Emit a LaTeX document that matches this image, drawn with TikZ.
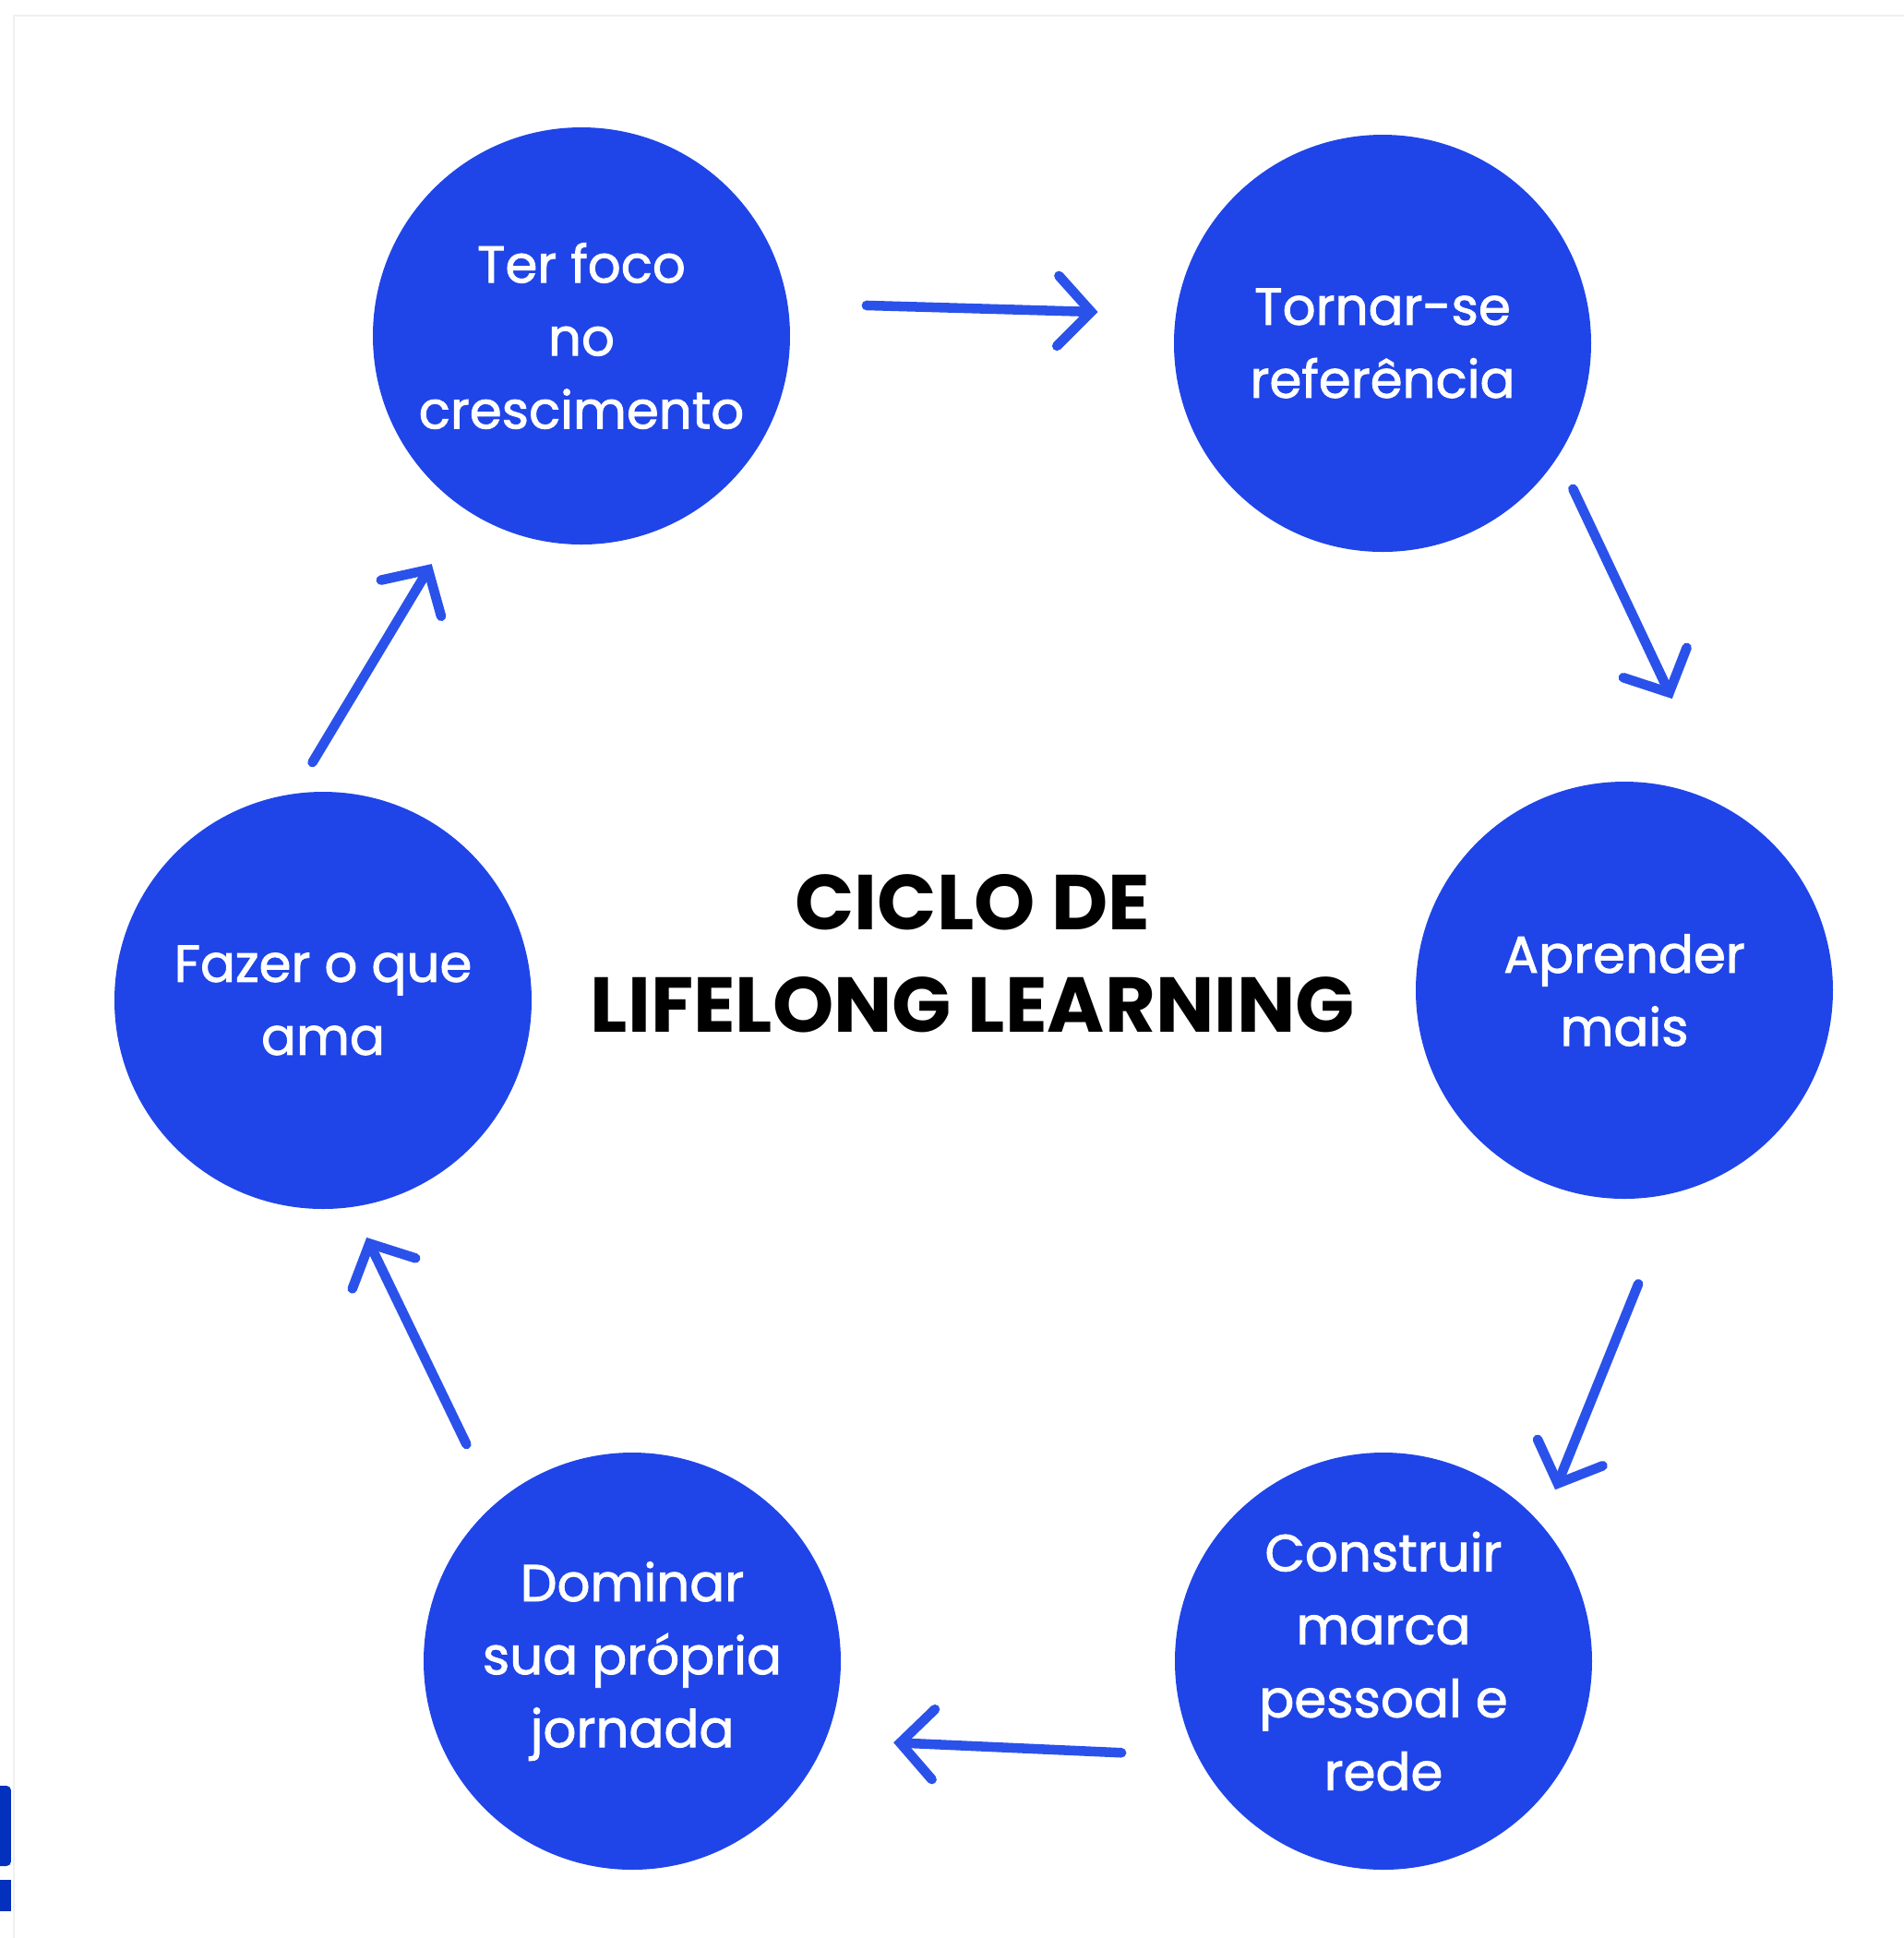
\documentclass[tikz,border=0pt]{standalone}
\usepackage{fontspec}
\setmainfont{Poppins}
\newfontfamily\stagefont[RawFeature={embolden=1.6}]{Poppins}
\usetikzlibrary{arrows.meta}
\definecolor{cycblue}{HTML}{1F45E8}
\definecolor{arrblue}{HTML}{2A52EA}
\definecolor{markblue}{HTML}{0430BE}
\begin{document}
\begin{tikzpicture}[
  stage/.style={circle,fill=cycblue,minimum size=4.52cm,inner sep=0pt,align=center,
    text=white,font=\stagefont\fontsize{16}{22.5}\selectfont},
  cyc/.style={arrblue,line width=3pt,line cap=round,-{Straight Barb[length=3.6mm,width=7.6mm,line cap=round]}}]
  \useasboundingbox (0,0) rectangle (20.63,-21);
  \draw[gray!12,line width=0.6pt] (0.15,-21)--(0.15,-0.17)--(20.63,-0.17);
  \fill[markblue,rounded corners=0.05cm] (-0.1,-19.35) rectangle (0.12,-20.22);
  \fill[markblue] (0,-20.37) rectangle (0.12,-20.71);
  \node[stage] (foco) at (6.30,-3.64) {Ter foco\\no\\crescimento};
  \node[stage] (ref) at (14.98,-3.72) {Tornar-se\\referência};
  \node[stage] (apr) at (17.60,-10.73) {Aprender\\mais};
  \node[stage] (marca) at (14.99,-18.00) {Construir\\marca\\pessoal e\\rede};
  \node[stage] (jorn) at (6.85,-18.00) {Dominar\\sua própria\\jornada};
  \node[stage] (ama) at (3.50,-10.84) {Fazer o que\\ama};
  \node[align=center,font=\bfseries\fontsize{24}{31.5}\selectfont] (title) at (10.54,-10.33) {CICLO DE\\LIFELONG LEARNING};
  \draw[cyc,shorten <=0.85cm,shorten >=0.84cm] (foco.9)--(ref.172);
  \draw[cyc,shorten <=0.38cm,shorten >=1.28cm] (ref.-33)--(apr.62);
  \draw[cyc,shorten <=1.06cm,shorten >=0.40cm] (apr.-76)--(marca.41);
  \draw[cyc,shorten <=0.82cm,shorten >=0.73cm] (marca.207)--(jorn.-22);
  \draw[cyc,shorten <=0.71cm,shorten >=0.36cm] (jorn.131)--(ama.-82);
  \draw[cyc,shorten <=0.39cm,shorten >=0.69cm] (ama.98)--(foco.236);
\end{tikzpicture}
\end{document}
